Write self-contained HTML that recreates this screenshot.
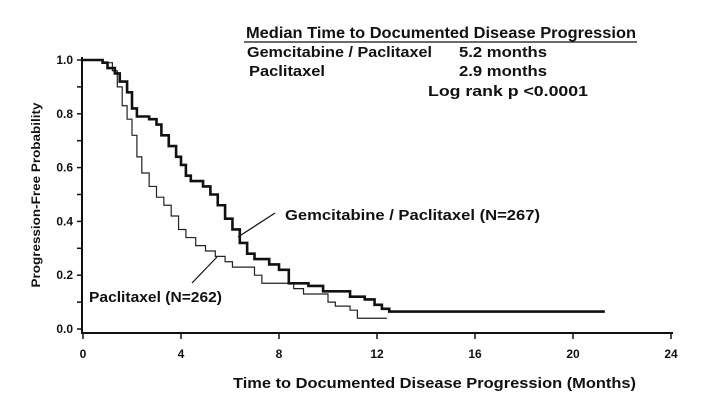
<!DOCTYPE html><html><head><style>body{margin:0;background:#fff}svg{display:block}text{font-family:"Liberation Sans",Arial,sans-serif;font-weight:bold;fill:#111}</style></head><body>
<svg id="s" width="721" height="412" viewBox="0 0 721 412">
<text x="246" y="38" font-size="15.5" textLength="390" lengthAdjust="spacingAndGlyphs">Median Time to Documented Disease Progression</text>
<line x1="244" y1="42" x2="637" y2="42" stroke="#111" stroke-width="1.3"/>
<text x="247" y="57" font-size="14.5" textLength="185" lengthAdjust="spacingAndGlyphs">Gemcitabine / Paclitaxel</text><text x="459" y="57" font-size="14.5" textLength="88" lengthAdjust="spacingAndGlyphs">5.2 months</text>
<text x="249" y="76" font-size="14.5" textLength="76" lengthAdjust="spacingAndGlyphs">Paclitaxel</text><text x="459" y="76" font-size="14.5" textLength="88" lengthAdjust="spacingAndGlyphs">2.9 months</text>
<text x="428" y="96" font-size="14.5" textLength="160" lengthAdjust="spacingAndGlyphs">Log rank p &lt;0.0001</text>
<text transform="translate(40,195) rotate(-90)" text-anchor="middle" font-size="12" textLength="185" lengthAdjust="spacingAndGlyphs">Progression-Free Probability</text>
<text x="233" y="388" font-size="15" textLength="403" lengthAdjust="spacingAndGlyphs">Time to Documented Disease Progression (Months)</text>
<text x="285" y="220" font-size="15" textLength="255" lengthAdjust="spacingAndGlyphs">Gemcitabine / Paclitaxel  (N=267)</text>
<text x="89" y="302" font-size="15" textLength="133" lengthAdjust="spacingAndGlyphs">Paclitaxel (N=262)</text>
<line x1="275" y1="213" x2="238" y2="237" stroke="#111" stroke-width="1.2"/>
<line x1="192" y1="283" x2="217" y2="257" stroke="#111" stroke-width="1.2"/>
<g id="ax" stroke="#111" stroke-width="2" fill="none"><line x1="82" y1="57" x2="82" y2="334"/><line x1="81" y1="333" x2="673" y2="333"/></g>
<g id="t"></g>
</svg>
<script>
var X=function(m){return 83+m*24.5},Y=function(p){return 329-p*269};
var s=document.getElementById('t'),h='';
for(var i=0;i<=10;i++){var y=Y(i/10);h+='<line x1="77" y1="'+y+'" x2="82" y2="'+y+'" stroke="#111" stroke-width="1.5"/>';if(i%2==0)h+='<text x="73" y="'+(y+4)+'" font-size="12" text-anchor="end">'+(i/10).toFixed(1)+'</text>';}
for(var m=0;m<=24;m+=4){var x=X(m);h+='<line x1="'+x+'" y1="333" x2="'+x+'" y2="339" stroke="#111" stroke-width="1.5"/><text x="'+x+'" y="358" font-size="12" text-anchor="middle">'+m+'</text>';}
function path(d,end){var p='M'+X(0)+','+Y(1);d.forEach(function(q){p+='H'+X(q[0])+'V'+Y(q[1]);});p+='H'+X(end);return p;}
var g=[[0.8,0.99],[1.0,0.97],[1.3,0.95],[1.5,0.92],[1.8,0.88],[2.0,0.82],[2.2,0.79],[2.7,0.78],[3.0,0.76],[3.2,0.72],[3.5,0.68],[3.8,0.64],[4.0,0.61],[4.2,0.57],[4.4,0.55],[4.9,0.53],[5.2,0.5],[5.5,0.46],[5.8,0.41],[6.1,0.37],[6.4,0.32],[6.7,0.28],[7.0,0.26],[7.6,0.24],[8.0,0.22],[8.4,0.17],[9.2,0.16],[9.8,0.14],[10.9,0.12],[11.5,0.11],[11.9,0.09],[12.2,0.075],[12.5,0.065]];
var pc=[[0.8,0.99],[1.2,0.96],[1.4,0.9],[1.6,0.83],[1.8,0.78],[2.0,0.72],[2.2,0.64],[2.4,0.58],[2.7,0.53],[3.0,0.49],[3.3,0.46],[3.6,0.42],[3.9,0.37],[4.2,0.34],[4.6,0.31],[5.0,0.29],[5.4,0.27],[5.8,0.25],[6.1,0.23],[7.0,0.2],[7.3,0.17],[8.6,0.15],[9.0,0.13],[10.0,0.1],[10.3,0.085],[10.9,0.07],[11.2,0.04]];
h+='<path d="'+path(pc,12.4)+'" stroke="#222" stroke-width="1.2" fill="none"/>';
h+='<path d="'+path(g,21.3)+'" stroke="#111" stroke-width="2.6" fill="none"/>';
s.innerHTML=h;
</script></body></html>
